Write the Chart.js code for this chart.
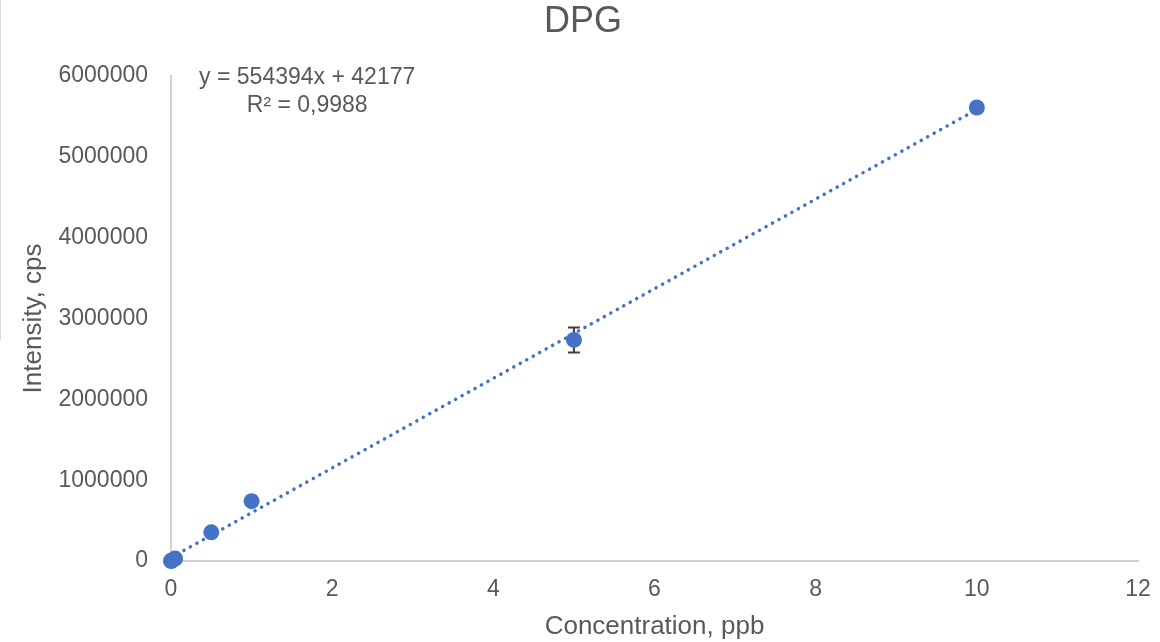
<!DOCTYPE html>
<html>
<head>
<meta charset="utf-8">
<script src="https://cdn.jsdelivr.net/npm/chart.js@4/dist/chart.umd.min.js"></script>
<style>
  html, body { margin: 0; padding: 0; background: #ffffff; }
  #wrap { position: relative; width: 1160px; height: 642px; }
  #edge { position: absolute; left: 0; top: 0; width: 1px; height: 340px; background: #d9d9d9; }
</style>
</head>
<body>
<div id="wrap">
  <canvas id="grafica" width="1160" height="642"></canvas>
  <div id="edge"></div>
</div>
<script>
// ================= DATOS =================
const concentraciones = [0, 0.01, 0.05, 0.5, 1, 5, 10];
const intensidades = [0, 6000, 30000, 355000, 740000, 2735000, 5610000];
const errores = [0, 0, 0, 0, 0, 155000, 0];

// Línea de tendencia (de la ecuación mostrada)
const pendiente = 554394;
const intercepto = 42177;
const tendenciaX = [0, 10];
const textoEcuacion = ["y = 554394x + 42177", "R² = 0,9988"];
const tituloTexto = "DPG";

const ticksX = [0, 2, 4, 6, 8, 10, 12];
const ticksY = [0, 1000000, 2000000, 3000000, 4000000, 5000000, 6000000];

const colorSerie = "#4472C4";
const colorTexto = "#595959";
const fuente = "'Liberation Sans', Arial, sans-serif";

// ================= PLUGINS =================

// Barras de error (detrás del marcador)
const barrasError = {
    id: "barrasError",
    beforeDatasetsDraw(chart) {
        const { ctx, scales } = chart;
        ctx.save();
        ctx.strokeStyle = "#404040";
        ctx.lineWidth = 2;
        concentraciones.forEach((x, i) => {
            if (!errores[i]) return;
            const px = scales.x.getPixelForValue(x);
            const arriba = scales.y.getPixelForValue(intensidades[i] + errores[i]);
            const abajo = scales.y.getPixelForValue(intensidades[i] - errores[i]);
            ctx.beginPath();
            ctx.moveTo(px, arriba); ctx.lineTo(px, abajo);
            ctx.moveTo(px - 6, arriba); ctx.lineTo(px + 6, arriba);
            ctx.moveTo(px - 6, abajo); ctx.lineTo(px + 6, abajo);
            ctx.stroke();
        });
        ctx.restore();
    }
};

// Título centrado en todo el lienzo + etiqueta de la ecuación
const textos = {
    id: "textos",
    afterDraw(chart) {
        const { ctx, scales, width } = chart;
        ctx.save();
        ctx.fillStyle = colorTexto;
        ctx.textAlign = "center";
        ctx.textBaseline = "middle";

        ctx.font = "36px " + fuente;
        ctx.fillText(tituloTexto, width / 2 + 3, 22);

        const cx = scales.x.getPixelForValue(1.69);
        const cy = scales.y.getPixelForValue(5975000);
        ctx.font = "23px " + fuente;
        textoEcuacion.forEach((linea, i) => ctx.fillText(linea, cx, cy + i * 28));
        ctx.restore();
    }
};

// ================= GRÁFICA =================
const ctx = document.getElementById("grafica").getContext("2d");

new Chart(ctx, {
    type: "scatter",
    data: {
        datasets: [
            {
                label: "DPG",
                data: concentraciones.map((x, i) => ({ x: x, y: intensidades[i] })),
                backgroundColor: colorSerie,
                borderColor: colorSerie,
                pointRadius: 8,
                pointHoverRadius: 8,
                borderWidth: 0,
                clip: false
            },
            {
                label: "Tendencia",
                data: tendenciaX.map(x => ({ x: x, y: pendiente * x + intercepto })),
                showLine: true,
                borderColor: colorSerie,
                borderWidth: 3.5,
                borderDash: [0.1, 7.3],
                borderCapStyle: "round",
                pointRadius: 0,
                fill: false,
                clip: false
            }
        ]
    },
    options: {
        responsive: false,
        animation: false,
        layout: { padding: { left: 0, right: 22, top: 76, bottom: 0 } },
        plugins: {
            legend: { display: false },
            tooltip: { enabled: false },
            title: { display: false }
        },
        scales: {
            x: {
                type: "linear",
                min: 0,
                max: 12,
                afterBuildTicks: (s) => { s.ticks = ticksX.map(v => ({ value: v })); },
                afterFit: (s) => { s.height = 81; s.paddingRight = 0; s.paddingLeft = 0; },
                grid: { display: false, drawTicks: false },
                border: { display: true, color: "#d0d0d0", width: 2 },
                ticks: {
                    color: colorTexto,
                    padding: 15,
                    font: { family: fuente, size: 23 },
                    callback: (v) => String(v)
                },
                title: {
                    display: true,
                    text: "Concentration, ppb",
                    color: colorTexto,
                    font: { family: fuente, size: 26, weight: "normal" },
                    padding: { top: 0, bottom: 0 }
                }
            },
            y: {
                type: "linear",
                min: 0,
                max: 6000000,
                afterBuildTicks: (s) => { s.ticks = ticksY.map(v => ({ value: v })); },
                afterFit: (s) => { s.width = 171; },
                grid: { display: false, drawTicks: false },
                border: { display: true, color: "#d0d0d0", width: 2 },
                ticks: {
                    color: colorTexto,
                    padding: 23,
                    font: { family: fuente, size: 23 },
                    callback: (v) => String(v)
                },
                title: {
                    display: true,
                    text: "Intensity, cps",
                    color: colorTexto,
                    font: { family: fuente, size: 26, weight: "normal" },
                    padding: { top: 18, bottom: 0 }
                }
            }
        }
    },
    plugins: [barrasError, textos]
});
</script>
</body>
</html>
